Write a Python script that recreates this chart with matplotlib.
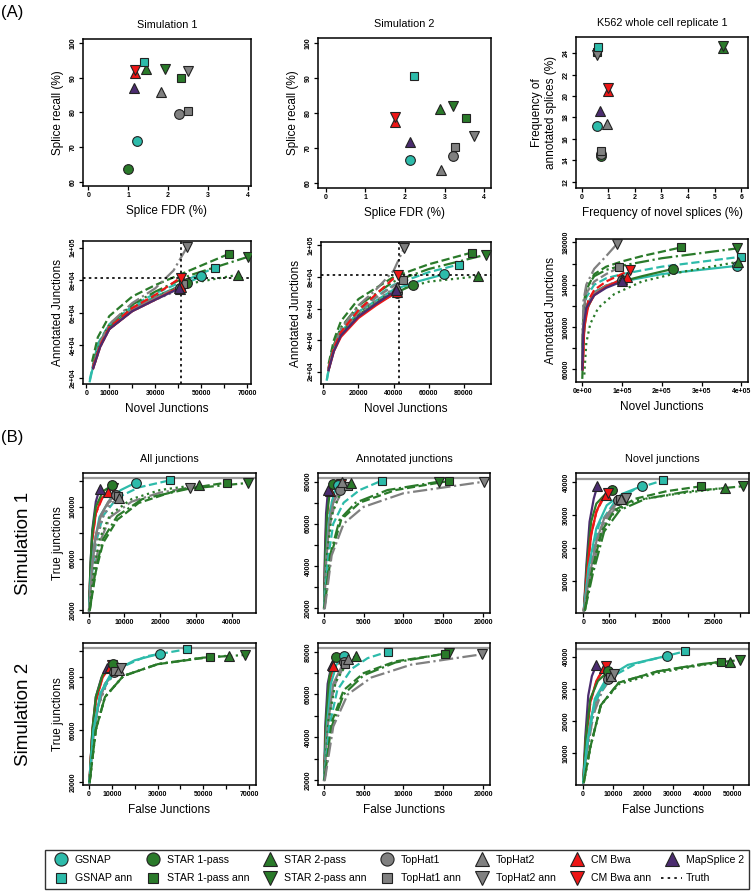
import matplotlib
matplotlib.use("Agg")
import matplotlib.pyplot as plt
from matplotlib.lines import Line2D

plt.rcParams['font.family'] = ['Liberation Sans', 'DejaVu Sans']

W, H = 755, 896

TEAL = "#2DBBAA"
GREEN = "#2A7A2A"
GRAY = "#808080"
RED = "#EE1616"
PURPLE = "#4B2C6F"

# method -> (colour, marker, line style)
STYLE = {
    "GSNAP": (TEAL, "o", "-"),
    "STAR 1-pass": (GREEN, "o", "-"),
    "STAR 2-pass": (GREEN, "^", ":"),
    "TopHat1": (GRAY, "o", "-"),
    "TopHat2": (GRAY, "^", ":"),
    "CM Bwa": (RED, "^", "-"),
    "MapSplice 2": (PURPLE, "^", "-"),
    "GSNAP ann": (TEAL, "s", "--"),
    "STAR 1-pass ann": (GREEN, "s", "--"),
    "STAR 2-pass ann": (GREEN, "v", "-."),
    "TopHat1 ann": (GRAY, "s", "--"),
    "TopHat2 ann": (GRAY, "v", "-."),
    "CM Bwa ann": (RED, "v", "--"),
}
MSIZE = {"o": 7, "s": 5.5, "^": 7, "v": 7}

################################################################################################
#                        (A) top row: recall vs FDR / frequencies                               #
################################################################################################

sim1_fdr_recall = {
    "STAR 1-pass": (1.00, 63.6),
    "GSNAP": (1.23, 71.8),
    "TopHat1": (2.27, 79.6),
    "TopHat1 ann": (2.51, 80.4),
    "TopHat2": (1.82, 86.0),
    "MapSplice 2": (1.15, 87.2),
    "STAR 1-pass ann": (2.33, 90.1),
    "TopHat2 ann": (2.49, 92.0),
    "STAR 2-pass ann": (1.92, 92.6),
    "STAR 2-pass": (1.46, 92.5),
    "CM Bwa": (1.17, 91.3),
    "CM Bwa ann": (1.17, 92.2),
    "GSNAP ann": (1.40, 94.7),
}

sim2_fdr_recall = {
    "TopHat2": (2.92, 63.9),
    "GSNAP": (2.13, 66.6),
    "TopHat1": (3.22, 67.9),
    "TopHat1 ann": (3.26, 70.2),
    "MapSplice 2": (2.14, 71.8),
    "TopHat2 ann": (3.75, 73.5),
    "STAR 1-pass ann": (3.54, 78.5),
    "CM Bwa": (1.74, 77.6),
    "CM Bwa ann": (1.74, 79.0),
    "STAR 2-pass": (2.88, 81.3),
    "STAR 2-pass ann": (3.22, 82.1),
    "GSNAP ann": (2.23, 90.5),
}

k562_novel_annot = {
    "STAR 1-pass": (0.72, 14.4),
    "TopHat1": (0.72, 14.6),
    "TopHat1 ann": (0.72, 14.85),
    "GSNAP": (0.57, 17.2),
    "TopHat2": (0.96, 17.35),
    "MapSplice 2": (0.69, 18.6),
    "CM Bwa": (1.00, 20.5),
    "CM Bwa ann": (1.00, 20.8),
    "STAR 1-pass ann": (0.57, 24.1),
    "TopHat2 ann": (0.56, 23.85),
    "GSNAP ann": (0.60, 24.56),
    "STAR 2-pass": (5.30, 24.5),
    "STAR 2-pass ann": (5.30, 24.7),
}

################################################################################################
#                        (A) second row: annotated vs novel junctions                           #
################################################################################################

sim1_annot_novel = {
    "GSNAP": ([1500, 5000, 10000, 20000, 30000, 40000, 50100], [18000, 40000, 52000, 63000, 70000, 76000, 82300]),
    "GSNAP ann": ([1500, 5000, 10000, 20000, 30000, 45000, 56200], [19000, 41000, 53000, 64000, 72000, 81000, 87800]),
    "STAR 1-pass": ([3000, 6000, 10000, 20000, 30000, 44000], [27000, 40000, 51000, 62000, 69000, 78500]),
    "STAR 1-pass ann": ([2500, 5000, 10000, 20000, 30000, 45000, 62000], [30000, 45000, 58000, 70000, 77000, 86000, 96100]),
    "STAR 2-pass": ([3000, 6000, 10000, 20000, 30000, 45000, 65900], [27000, 40000, 51000, 63000, 70000, 78000, 83300]),
    "STAR 2-pass ann": ([3000, 6000, 10000, 20000, 30000, 45000, 70300], [28000, 42000, 53000, 65000, 73000, 83000, 94300]),
    "TopHat1": ([3000, 6000, 10000, 20000, 30000, 41000], [27000, 40000, 50000, 62000, 69000, 75500]),
    "TopHat1 ann": ([3000, 6000, 10000, 20000, 30000, 42000], [27000, 40000, 50000, 62000, 69000, 77500]),
    "TopHat2": ([3000, 6000, 10000, 20000, 30000, 41000], [26000, 39000, 50000, 61000, 68000, 74500]),
    "TopHat2 ann": ([3000, 6000, 10000, 20000, 30000, 38000, 43900], [27000, 42000, 53000, 66000, 75000, 86000, 100400]),
    "CM Bwa": ([3000, 6000, 10000, 20000, 30000, 41100], [26000, 39000, 50000, 61000, 68000, 76100]),
    "CM Bwa ann": ([3000, 6000, 10000, 20000, 30000, 41100], [27000, 40000, 51000, 63000, 71000, 81600]),
    "MapSplice 2": ([3000, 6000, 10000, 20000, 30000, 40500], [26000, 39000, 50000, 61000, 68000, 75000]),
}
sim1_truth_novel, sim1_truth_annot = 41100, 81600

sim2_annot_novel = {
    "GSNAP": ([2000, 5000, 10000, 20000, 40000, 55000, 68800], [15000, 33000, 45000, 58000, 72000, 77500, 81700]),
    "GSNAP ann": ([2000, 5000, 10000, 20000, 40000, 60000, 77000], [15000, 34000, 47000, 60000, 75000, 83000, 87800]),
    "STAR 1-pass": ([3000, 6000, 10000, 20000, 35000, 50900], [22000, 35000, 44000, 56000, 67000, 74800]),
    "STAR 1-pass ann": ([3000, 6000, 10000, 20000, 40000, 60000, 84400], [25000, 40000, 52000, 66000, 80000, 88000, 95400]),
    "STAR 2-pass": ([3000, 6000, 10000, 20000, 40000, 60000, 88000], [22000, 35000, 45000, 58000, 71000, 77000, 80400]),
    "STAR 2-pass ann": ([3000, 6000, 10000, 20000, 40000, 60000, 92500], [23000, 37000, 48000, 62000, 77000, 85000, 94100]),
    "TopHat1": ([3000, 6000, 10000, 20000, 30000, 42000], [22000, 34000, 43000, 55000, 63000, 70000]),
    "TopHat1 ann": ([3000, 6000, 10000, 20000, 30000, 45100], [22000, 35000, 45000, 58000, 67000, 78000]),
    "TopHat2": ([3000, 6000, 10000, 20000, 30000, 41800], [22000, 34000, 44000, 56000, 65000, 73800]),
    "TopHat2 ann": ([3000, 6000, 10000, 20000, 30000, 40000, 46000], [22000, 36000, 47000, 62000, 72000, 84000, 98500]),
    "CM Bwa": ([3000, 6000, 10000, 20000, 30000, 42000], [21000, 33000, 42000, 54000, 62000, 70600]),
    "CM Bwa ann": ([3000, 6000, 10000, 20000, 30000, 42400], [22000, 35000, 45000, 59000, 69000, 81500]),
    "MapSplice 2": ([3000, 6000, 10000, 20000, 30000, 41500], [21000, 33000, 43000, 55000, 63000, 71500]),
}
sim2_truth_novel, sim2_truth_annot = 43000, 81100

k562_annot_novel = {
    "GSNAP": ([0, 3000, 10000, 30000, 60000, 100000, 200000, 389100], [60000, 100000, 120000, 133000, 139000, 143000, 150000, 157800]),
    "GSNAP ann": ([0, 3000, 10000, 30000, 60000, 100000, 200000, 400000], [70000, 110000, 128000, 140000, 146000, 150000, 157000, 166400]),
    "STAR 1-pass": ([0, 3000, 10000, 30000, 60000, 100000, 150000, 229300], [52000, 90000, 115000, 132000, 139000, 143000, 148000, 155000]),
    "STAR 1-pass ann": ([0, 3000, 10000, 30000, 60000, 100000, 150000, 249400], [60000, 110000, 135000, 150000, 157000, 162000, 167000, 175300]),
    "STAR 2-pass": ([5000, 10000, 20000, 40000, 80000, 150000, 250000, 392500], [55000, 85000, 103000, 118000, 131000, 143000, 152000, 161600]),
    "STAR 2-pass ann": ([0, 3000, 10000, 30000, 60000, 100000, 200000, 390000], [80000, 120000, 137000, 148000, 154000, 158000, 165000, 174300]),
    "TopHat1": ([0, 3000, 10000, 30000, 60000, 98700], [70000, 105000, 120000, 132000, 139000, 144200]),
    "TopHat1 ann": ([0, 3000, 10000, 30000, 60000, 92900], [75000, 115000, 132000, 143000, 150000, 156300]),
    "TopHat2": ([0, 3000, 10000, 30000, 60000, 100000], [68000, 104000, 119000, 131000, 139000, 145000]),
    "TopHat2 ann": ([0, 3000, 10000, 30000, 60000, 86200], [85000, 125000, 140000, 155000, 167000, 178100]),
    "CM Bwa": ([1000, 5000, 15000, 30000, 60000, 111300], [60000, 100000, 120000, 130000, 138000, 147300]),
    "CM Bwa ann": ([1000, 5000, 15000, 30000, 60000, 119700], [62000, 103000, 125000, 135000, 143000, 153700]),
    "MapSplice 2": ([0, 3000, 10000, 30000, 60000, 100000], [60000, 100000, 118000, 130000, 137000, 143000]),
}

################################################################################################
#                        (B) true vs false junctions                                            #
################################################################################################

sim1_all = {
    "CM Bwa": ([100, 500, 1000, 2000, 3500, 5420], [20000, 50000, 75000, 95000, 106000, 111600]),
    "CM Bwa ann": ([100, 500, 1000, 2000, 4000, 6900], [20000, 50000, 75000, 95000, 108000, 114900]),
    "MapSplice 2": ([100, 500, 1000, 2000, 3080], [20000, 55000, 82000, 104000, 114100]),
    "STAR 1-pass": ([100, 500, 1000, 2000, 4000, 6640], [20000, 55000, 80000, 100000, 112000, 116700]),
    "GSNAP": ([100, 600, 1500, 3000, 6000, 9000, 13180], [20000, 45000, 70000, 92000, 106000, 113000, 118700]),
    "GSNAP ann": ([100, 800, 2000, 4000, 8000, 14000, 22710], [20000, 45000, 72000, 93000, 107000, 115000, 120500]),
    "TopHat1": ([200, 1000, 2000, 3500, 5500, 7760], [20000, 55000, 78000, 94000, 104000, 109500]),
    "TopHat1 ann": ([200, 1000, 2000, 3500, 5500, 8220], [20000, 55000, 77000, 93000, 103000, 108200]),
    "TopHat2": ([200, 1000, 2000, 4000, 6000, 8500], [20000, 50000, 72000, 92000, 102000, 107000]),
    "TopHat2 ann": ([200, 1500, 3000, 6000, 12000, 20000, 28320], [20000, 50000, 72000, 92000, 104000, 111000, 114900]),
    "STAR 2-pass": ([200, 1500, 3000, 6000, 12000, 20000, 30930], [20000, 52000, 75000, 94000, 106000, 113000, 117200]),
    "STAR 1-pass ann": ([300, 2000, 4000, 8000, 14000, 25000, 38600], [20000, 50000, 72000, 90000, 103000, 113000, 118700]),
    "STAR 2-pass ann": ([300, 2000, 4000, 8000, 15000, 28000, 44670], [20000, 52000, 75000, 93000, 106000, 114000, 118500]),
}
sim1_annotated = {
    "CM Bwa": ([50, 150, 300, 500, 750], [20000, 40000, 58000, 70000, 75590]),
    "CM Bwa ann": ([50, 200, 500, 1000, 1600, 2220], [20000, 40000, 60000, 70000, 76000, 79060]),
    "MapSplice 2": ([50, 150, 300, 545], [20000, 45000, 65000, 75900]),
    "STAR 1-pass": ([50, 200, 400, 700, 1170], [20000, 45000, 63000, 73000, 78740]),
    "GSNAP": ([50, 300, 600, 1000, 1400, 1800], [20000, 42000, 60000, 70000, 75500, 78300]),
    "TopHat1": ([80, 300, 700, 1200, 2000], [20000, 42000, 60000, 70000, 75900]),
    "TopHat1 ann": ([80, 300, 700, 1300, 2200, 3000], [20000, 40000, 58000, 68000, 74500, 78000]),
    "TopHat2": ([80, 400, 800, 1400, 2340], [20000, 45000, 62000, 72000, 79800]),
    "STAR 2-pass": ([80, 400, 1000, 2000, 3470], [20000, 45000, 64000, 74000, 79500]),
    "GSNAP ann": ([80, 500, 1200, 2500, 4500, 7280], [20000, 42000, 60000, 70000, 76000, 80470]),
    "STAR 2-pass ann": ([100, 800, 2000, 4000, 8000, 14480], [20000, 45000, 62000, 70000, 76000, 80000]),
    "STAR 1-pass ann": ([100, 900, 2200, 4500, 9000, 15730], [20000, 45000, 62000, 70000, 76000, 80310]),
    "TopHat2 ann": ([150, 1000, 2500, 5000, 10000, 20130], [20000, 45000, 60000, 68000, 74500, 80000]),
}
sim1_novel = {
    "MapSplice 2": ([100, 600, 1200, 2000, 2680], [1000, 15000, 28000, 35000, 38790]),
    "STAR 1-pass": ([100, 700, 1500, 2500, 4000, 5430], [1000, 15000, 28000, 33500, 36000, 37780]),
    "CM Bwa": ([100, 700, 1500, 2500, 3500, 4340], [1000, 12000, 24000, 31000, 34500, 36260]),
    "CM Bwa ann": ([100, 700, 1500, 2500, 3800, 4800], [1000, 12000, 24000, 31000, 35000, 36800]),
    "GSNAP": ([100, 1000, 2500, 4500, 7500, 11180], [1000, 14000, 26000, 33000, 36500, 38790]),
    "GSNAP ann": ([100, 1000, 3000, 6000, 10000, 15330], [1000, 13000, 27000, 34000, 38000, 40600]),
    "TopHat1": ([200, 1000, 2500, 4000, 6700], [1000, 10000, 22000, 29000, 34550]),
    "TopHat1 ann": ([200, 1000, 2500, 4200, 7000], [1000, 10000, 22000, 29000, 34800]),
    "TopHat2": ([200, 1200, 2800, 4500, 7300], [1000, 10000, 22000, 29500, 35000]),
    "TopHat2 ann": ([200, 1200, 3000, 5000, 8170], [1000, 10000, 22000, 30000, 35350]),
    "STAR 2-pass": ([300, 1500, 3500, 6000, 10000, 18000, 27200], [1000, 12000, 25000, 31000, 34500, 36500, 38280]),
    "STAR 1-pass ann": ([300, 1500, 3500, 6000, 10000, 16000, 22610], [1000, 12000, 25000, 31500, 35000, 37300, 38790]),
    "STAR 2-pass ann": ([300, 1800, 4000, 7000, 12000, 20000, 30650], [1000, 12000, 25000, 31500, 35000, 37200, 38790]),
}
sim1_truth_all, sim1_truth_annotated, sim1_truth_novelj = 122300, 81730, 41110

sim2_all = {
    "MapSplice 2": ([200, 1500, 3000, 5500, 8000], [20000, 60000, 85000, 100000, 107000]),
    "CM Bwa": ([200, 1500, 3000, 6000, 9000], [20000, 58000, 82000, 100000, 107500]),
    "CM Bwa ann": ([200, 1500, 3000, 6000, 10000], [20000, 58000, 82000, 101000, 109500]),
    "STAR 1-pass": ([200, 1500, 3000, 6000, 10500], [20000, 60000, 85000, 102000, 110000]),
    "TopHat1": ([300, 2000, 4000, 7000, 11000], [20000, 55000, 78000, 95000, 104000]),
    "TopHat1 ann": ([300, 2000, 4000, 7000, 11500], [20000, 55000, 78000, 95000, 105000]),
    "TopHat2": ([300, 2000, 4000, 8000, 13000], [20000, 55000, 78000, 96000, 105500]),
    "TopHat2 ann": ([300, 2000, 4000, 8000, 14000], [20000, 55000, 78000, 97000, 107000]),
    "GSNAP": ([200, 2000, 5000, 10000, 20000, 31000], [20000, 60000, 88000, 104000, 113000, 118000]),
    "GSNAP ann": ([200, 2000, 5000, 12000, 25000, 43000], [20000, 60000, 88000, 106000, 116000, 121500]),
    "STAR 2-pass": ([300, 3000, 7000, 15000, 30000, 45000, 61000], [20000, 60000, 85000, 101000, 110000, 114000, 116500]),
    "STAR 1-pass ann": ([300, 3000, 7000, 15000, 30000, 53000], [20000, 60000, 85000, 101000, 110000, 115500]),
    "STAR 2-pass ann": ([300, 3000, 7000, 15000, 30000, 50000, 68000], [20000, 60000, 85000, 101000, 110000, 115000, 117000]),
}
sim2_annotated = {
    "MapSplice 2": ([50, 200, 500, 1000], [20000, 45000, 65000, 74000]),
    "CM Bwa": ([50, 300, 700, 1200], [20000, 45000, 65000, 73500]),
    "CM Bwa ann": ([50, 300, 800, 1500, 2200], [20000, 45000, 65000, 73000, 76000]),
    "STAR 1-pass": ([50, 300, 700, 1500], [20000, 48000, 68000, 77500]),
    "GSNAP": ([50, 400, 900, 1600, 2500], [20000, 45000, 65000, 74000, 78000]),
    "TopHat1": ([80, 500, 1200, 2500], [20000, 45000, 65000, 75000]),
    "TopHat1 ann": ([80, 500, 1300, 2700], [20000, 45000, 64000, 74500]),
    "TopHat2": ([80, 600, 1500, 3000], [20000, 48000, 66000, 76500]),
    "STAR 2-pass": ([80, 600, 1500, 3000, 4000], [20000, 48000, 66000, 75000, 78000]),
    "GSNAP ann": ([80, 700, 1700, 3500, 5500, 8000], [20000, 45000, 62000, 72000, 77000, 80000]),
    "STAR 2-pass ann": ([100, 1000, 2500, 5000, 9000, 15700], [20000, 45000, 60000, 69000, 75000, 79500]),
    "STAR 1-pass ann": ([100, 1000, 2500, 5000, 9000, 15200], [20000, 47000, 62000, 70000, 75500, 79000]),
    "TopHat2 ann": ([150, 1200, 3000, 6000, 11000, 19800], [20000, 45000, 60000, 68000, 74000, 78800]),
}
sim2_novel = {
    "MapSplice 2": ([100, 800, 1800, 3000, 4500], [1000, 15000, 28000, 34000, 37500]),
    "CM Bwa": ([100, 1000, 2500, 4500, 7000], [1000, 14000, 26000, 32500, 36500]),
    "CM Bwa ann": ([100, 1000, 2500, 4800, 7700], [1000, 14000, 26000, 33000, 37200]),
    "STAR 1-pass": ([100, 1000, 2500, 5000, 8500], [1000, 15000, 27000, 32500, 35500]),
    "TopHat1": ([200, 1300, 3000, 5500, 8500], [1000, 11000, 22000, 29000, 33000]),
    "TopHat1 ann": ([200, 1300, 3000, 5500, 9000], [1000, 11000, 22000, 29000, 33800]),
    "TopHat2": ([200, 1500, 3500, 6000, 9500], [1000, 11000, 22000, 29500, 34000]),
    "TopHat2 ann": ([200, 1500, 3500, 6500, 10500], [1000, 11000, 22000, 29500, 34800]),
    "GSNAP": ([100, 1500, 4000, 8000, 15000, 28000], [1000, 14000, 27000, 33500, 37500, 40300]),
    "GSNAP ann": ([100, 1500, 4000, 9000, 18000, 34000], [1000, 13000, 26000, 33500, 38000, 41700]),
    "STAR 2-pass": ([300, 2500, 6000, 12000, 25000, 40000, 49000], [1000, 12000, 25000, 31500, 35000, 37500, 38300]),
    "STAR 1-pass ann": ([300, 2500, 6000, 12000, 25000, 46000], [1000, 12000, 25000, 32000, 35500, 38500]),
    "STAR 2-pass ann": ([300, 2500, 6000, 12000, 25000, 40000, 52500], [1000, 12000, 25000, 32000, 35500, 37800, 39000]),
}
sim2_truth_all, sim2_truth_annotated, sim2_truth_novelj = 122300, 81730, 42500

legend_order = ["GSNAP", "GSNAP ann", "STAR 1-pass", "STAR 1-pass ann", "STAR 2-pass",
                "STAR 2-pass ann", "TopHat1", "TopHat1 ann", "TopHat2", "TopHat2 ann",
                "CM Bwa", "CM Bwa ann", "MapSplice 2"]


def rect(l, t, r, b):
    return [l / W, 1 - b / H, (r - l) / W, (b - t) / H]


def style_axes(ax, xlim, ylim, xticks, xlabels, yticks, ylabels):
    ax.set_xlim(*xlim)
    ax.set_ylim(*ylim)
    ax.set_xticks(xticks)
    ax.set_xticklabels(xlabels)
    ax.set_yticks(yticks)
    ax.set_yticklabels(ylabels, rotation=90, va="center")
    ax.tick_params(length=3, width=0.9, pad=1.5, labelsize=5)
    for lab in ax.get_xticklabels() + ax.get_yticklabels():
        lab.set_fontweight("bold")
    for s in ax.spines.values():
        s.set_linewidth(1.1)


def draw_marker(ax, name, x, y):
    c, m, _ = STYLE[name]
    ax.plot([x], [y], linestyle="none", marker=m, ms=MSIZE[m], mfc=c,
            mec="#222222", mew=0.8, zorder=5)


def scatter_panel(ax, pts):
    for name, (x, y) in pts.items():
        draw_marker(ax, name, x, y)


def curve_panel(ax, curves):
    for name, (xs, ys) in curves.items():
        c, m, ls = STYLE[name]
        ax.plot(xs, ys, color=c, linestyle=ls, lw=1.6, zorder=3)
    for name, (xs, ys) in curves.items():
        draw_marker(ax, name, xs[-1], ys[-1])


fig = plt.figure(figsize=(W / 100, H / 100), dpi=100)
LAB = 8.5
TIT = 7.8

# ---- row 1
ax = fig.add_axes(rect(83, 39, 251, 186))
scatter_panel(ax, sim1_fdr_recall)
style_axes(ax, (-0.13, 4.08), (58.75, 101.25), [0, 1, 2, 3, 4], ["0", "1", "2", "3", "4"],
           [60, 70, 80, 90, 100], ["60", "70", "80", "90", "100"])
ax.set_title("Simulation 1", fontsize=TIT, pad=8)
ax.set_xlabel("Splice FDR (%)", fontsize=LAB, labelpad=4)
ax.set_ylabel("Splice recall (%)", fontsize=LAB, labelpad=4)

ax = fig.add_axes(rect(318, 38, 491, 188))
scatter_panel(ax, sim2_fdr_recall)
style_axes(ax, (-0.19, 4.17), (58.66, 101.4), [0, 1, 2, 3, 4], ["0", "1", "2", "3", "4"],
           [60, 70, 80, 90, 100], ["60", "70", "80", "90", "100"])
ax.set_title("Simulation 2", fontsize=TIT, pad=8)
ax.set_xlabel("Splice FDR (%)", fontsize=LAB, labelpad=4)
ax.set_ylabel("Splice recall (%)", fontsize=LAB, labelpad=4)

ax = fig.add_axes(rect(576, 37, 748, 188))
scatter_panel(ax, k562_novel_annot)
style_axes(ax, (-0.21, 6.25), (11.4, 25.53), [0, 1, 2, 3, 4, 5, 6], ["0", "1", "2", "3", "4", "5", "6"],
           [12, 14, 16, 18, 20, 22, 24], ["12", "14", "16", "18", "20", "22", "24"])
ax.set_title("K562 whole cell replicate 1", fontsize=TIT, pad=8)
ax.set_xlabel("Frequency of novel splices (%)", fontsize=LAB, labelpad=4)
ax.set_ylabel("Frequency of\nannotated splices (%)", fontsize=LAB, labelpad=4)

# ---- row 2
ax = fig.add_axes(rect(83, 241, 251, 384))
curve_panel(ax, sim1_annot_novel)
ax.axhline(sim1_truth_annot, color="black", ls=(0, (1.5, 2)), lw=1.2, zorder=4)
ax.axvline(sim1_truth_novel, color="black", ls=(0, (1.5, 2)), lw=1.2, zorder=4)
style_axes(ax, (-1450, 71740), (16330, 104080), list(range(0, 70001, 10000)),
           ["0", "10000", "", "30000", "", "50000", "", "70000"],
           [20000, 40000, 60000, 80000, 100000], ["2e+04", "4e+04", "6e+04", "8e+04", "1e+05"])
ax.set_xlabel("Novel Junctions", fontsize=LAB, labelpad=4)
ax.set_ylabel("Annotated Junctions", fontsize=LAB, labelpad=4)

ax = fig.add_axes(rect(321, 242, 491, 384))
curve_panel(ax, sim2_annot_novel)
ax.axhline(sim2_truth_annot, color="black", ls=(0, (1.5, 2)), lw=1.2, zorder=4)
ax.axvline(sim2_truth_novel, color="black", ls=(0, (1.5, 2)), lw=1.2, zorder=4)
style_axes(ax, (-1330, 95400), (12230, 102100), [0, 20000, 40000, 60000, 80000],
           ["0", "20000", "40000", "60000", "80000"],
           [20000, 40000, 60000, 80000, 100000], ["2e+04", "4e+04", "6e+04", "8e+04", "1e+05"])
ax.set_xlabel("Novel Junctions", fontsize=LAB, labelpad=4)
ax.set_ylabel("Annotated Junctions", fontsize=LAB, labelpad=4)

ax = fig.add_axes(rect(576, 239, 748, 382))
curve_panel(ax, k562_annot_novel)
style_axes(ax, (-15900, 416700), (48000, 183160), [0, 100000, 200000, 300000, 400000],
           ["0e+00", "1e+05", "2e+05", "3e+05", "4e+05"],
           list(range(60000, 180001, 20000)), ["60000", "", "100000", "", "140000", "", "180000"])
ax.set_xlabel("Novel Junctions", fontsize=LAB, labelpad=4)
ax.set_ylabel("Annotated Junctions", fontsize=LAB, labelpad=4)

# ---- rows 3 and 4
panels_b = [
    (rect(83, 473, 256, 613), sim1_all, sim1_truth_all, (-1590, 46820), (17950, 126150),
     [0, 10000, 20000, 30000, 40000], ["0", "10000", "20000", "30000", "40000"],
     [20000, 40000, 60000, 80000, 100000, 120000], ["20000", "", "60000", "", "100000", ""]),
    (rect(318, 473, 490, 613), sim1_annotated, sim1_truth_annotated, (-711, 20840), (17640, 84100),
     [0, 5000, 10000, 15000, 20000], ["0", "5000", "10000", "15000", "20000"],
     [20000, 30000, 40000, 50000, 60000, 70000, 80000], ["20000", "", "40000", "", "60000", "", "80000"]),
    (rect(576, 473, 749, 613), sim1_novel, sim1_truth_novelj, (-1405, 31800), (200, 42830),
     [0, 5000, 10000, 15000, 20000, 25000, 30000], ["0", "5000", "", "15000", "", "25000", ""],
     [10000, 20000, 30000, 40000], ["10000", "20000", "30000", "40000"]),
    (rect(83, 643, 256, 785), sim2_all, sim2_truth_all, (-2600, 73000), (17950, 126150),
     list(range(0, 70001, 10000)), ["0", "10000", "", "30000", "", "50000", "", "70000"],
     [20000, 40000, 60000, 80000, 100000, 120000], ["20000", "", "60000", "", "100000", ""]),
    (rect(318, 643, 490, 785), sim2_annotated, sim2_truth_annotated, (-711, 20840), (17640, 84100),
     [0, 5000, 10000, 15000, 20000], ["0", "5000", "10000", "15000", "20000"],
     [20000, 30000, 40000, 50000, 60000, 70000, 80000], ["20000", "", "40000", "", "60000", "", "80000"]),
    (rect(576, 643, 749, 785), sim2_novel, sim2_truth_novelj, (-2300, 55500), (200, 44300),
     [0, 10000, 20000, 30000, 40000, 50000], ["0", "10000", "20000", "30000", "40000", "50000"],
     [10000, 20000, 30000, 40000], ["10000", "20000", "30000", "40000"]),
]
titles_b = ["All junctions", "Annotated junctions", "Novel junctions"]

for i, (r, curves, truth, xl, yl, xt, xtl, yt, ytl) in enumerate(panels_b):
    ax = fig.add_axes(r)
    curve_panel(ax, curves)
    ax.axhline(truth, color="#9A9A9A", lw=1.6, zorder=2)
    style_axes(ax, xl, yl, xt, xtl, yt, ytl)
    if i < 3:
        ax.set_title(titles_b[i], fontsize=TIT, pad=8)
    else:
        ax.set_xlabel("False Junctions", fontsize=LAB, labelpad=4)
    if i % 3 == 0:
        ax.set_ylabel("True junctions", fontsize=LAB, labelpad=4)

# ---- labels outside panels
fig.text(1 / W, 1 - 12 / H, "(A)", fontsize=12, va="center", ha="left")
fig.text(1 / W, 1 - 437 / H, "(B)", fontsize=12, va="center", ha="left")
fig.text(24 / W, 1 - 543 / H, "Simulation 1", fontsize=13.5, rotation=90, va="center", ha="center")
fig.text(24 / W, 1 - 714 / H, "Simulation 2", fontsize=13.5, rotation=90, va="center", ha="center")

# ---- legend
handles = []
for name in legend_order:
    c, m, _ = STYLE[name]
    handles.append(Line2D([], [], linestyle="none", marker=m, ms=MSIZE[m] * 1.35, mfc=c,
                          mec="#222222", mew=0.8, label=name))
handles.append(Line2D([], [], color="black", ls=(0, (1.5, 2.5)), lw=1.2, label="Truth"))
leg = fig.legend(handles=handles, ncol=7, loc="center",
                 bbox_to_anchor=(397 / W, 1 - 869 / H), fontsize=7.6, frameon=True,
                 fancybox=False, edgecolor="black", handlelength=2.0, handletextpad=0.3,
                 columnspacing=1.0, borderpad=0.5, labelspacing=0.8)
leg.get_frame().set_linewidth(1.0)

fig.savefig("out.png", dpi=100)
